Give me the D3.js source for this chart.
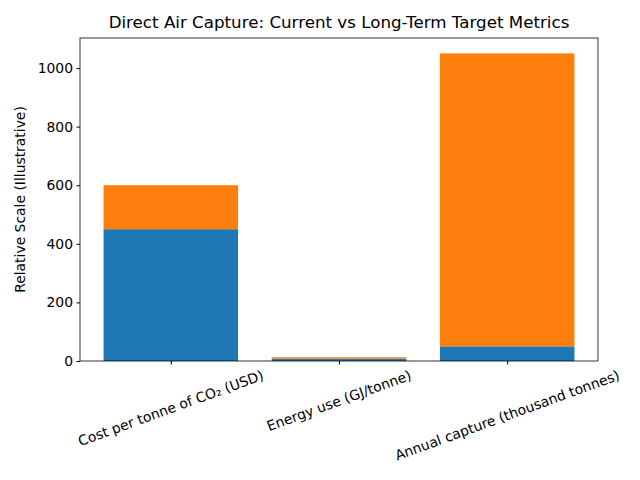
<!DOCTYPE html>
<html><head><meta charset="utf-8">
<script src="https://cdn.jsdelivr.net/npm/d3@7"></script>
<style>body{margin:0;background:#fff}svg{font-family:"DejaVu Sans",sans-serif}</style>
</head><body>
<script>
const categories = ["Cost per tonne of CO\u2082 (USD)", "Energy use (GJ/tonne)", "Annual capture (thousand tonnes)"];
const current = [450, 8, 50];
const target = [150, 5, 1000];
const yTicks = [0, 200, 400, 600, 800, 1000];
const title = "Direct Air Capture: Current vs Long-Term Target Metrics";
const yLabel = "Relative Scale (Illustrative)";

const W = 640, H = 480;
const m = {left: 80, right: 42, top: 38, bottom: 119};
const svg = d3.select("body").append("svg").attr("width", W).attr("height", H);
const iw = W - m.left - m.right, ih = H - m.top - m.bottom;
const g = svg.append("g").attr("transform", `translate(${m.left},${m.top})`);

const totals = current.map((c, i) => c + target[i]);
const ymax = d3.max(totals) * 1.05;
const y = d3.scaleLinear().domain([0, ymax]).range([ih, 0]);
const xl = d3.scaleLinear().domain([-0.54, 2.54]).range([0, iw]);
const bw = xl(0.4) - xl(-0.4);

g.selectAll(".cur").data(current).join("rect")
  .attr("x", (d, i) => xl(i) - bw / 2).attr("width", bw)
  .attr("y", d => y(d)).attr("height", d => y(0) - y(d)).attr("fill", "#1f77b4");
g.selectAll(".tgt").data(target).join("rect")
  .attr("x", (d, i) => xl(i) - bw / 2).attr("width", bw)
  .attr("y", (d, i) => y(d + current[i])).attr("height", (d, i) => y(current[i]) - y(d + current[i])).attr("fill", "#ff7f0e");

const ya = g.append("g").call(d3.axisLeft(y).tickValues(yTicks).tickSize(3.5).tickPadding(3.5).tickFormat(d3.format("d")));
ya.selectAll("text").attr("font-size", 13.9).attr("fill", "#000").attr("font-family", "DejaVu Sans");
ya.select(".domain").remove();
ya.selectAll("line").attr("stroke", "#000");

const xa = g.append("g").attr("transform", `translate(0,${ih})`)
  .call(d3.axisBottom(xl).tickValues([0, 1, 2]).tickSize(3.5).tickFormat(""));
xa.select(".domain").remove();
xa.selectAll("line").attr("stroke", "#000");

g.selectAll(".xlab").data(categories).join("text")
  .attr("transform", (d, i) => `translate(${xl(i)},${ih + 7}) rotate(-20)`)
  .attr("text-anchor", "middle").attr("dy", "0.7em")
  .attr("font-size", 13.9).attr("fill", "#000")
  .each(function(d){ d3.select(this).text(d); })
  .attr("transform", function(d, i){
    const w = this.getComputedTextLength();
    const h = 14;
    const a = 20 * Math.PI / 180;
    const bh = w * Math.sin(a) + h * Math.cos(a);
    return `translate(${xl(i)},${ih + 7 + bh / 2}) rotate(-20)`;
  })
  .attr("dy", "0.35em");

g.append("rect").attr("width", iw).attr("height", ih).attr("fill", "none").attr("stroke", "#000").attr("stroke-width", 0.8);

svg.append("text").attr("x", m.left + iw / 2).attr("y", 28).attr("text-anchor", "middle")
  .attr("font-size", 16.7).attr("fill", "#000").text(title);
svg.append("text").attr("transform", `translate(25,${m.top + ih / 2}) rotate(-90)`)
  .attr("text-anchor", "middle").attr("font-size", 13.9).attr("fill", "#000").text(yLabel);
</script>
</body></html>
